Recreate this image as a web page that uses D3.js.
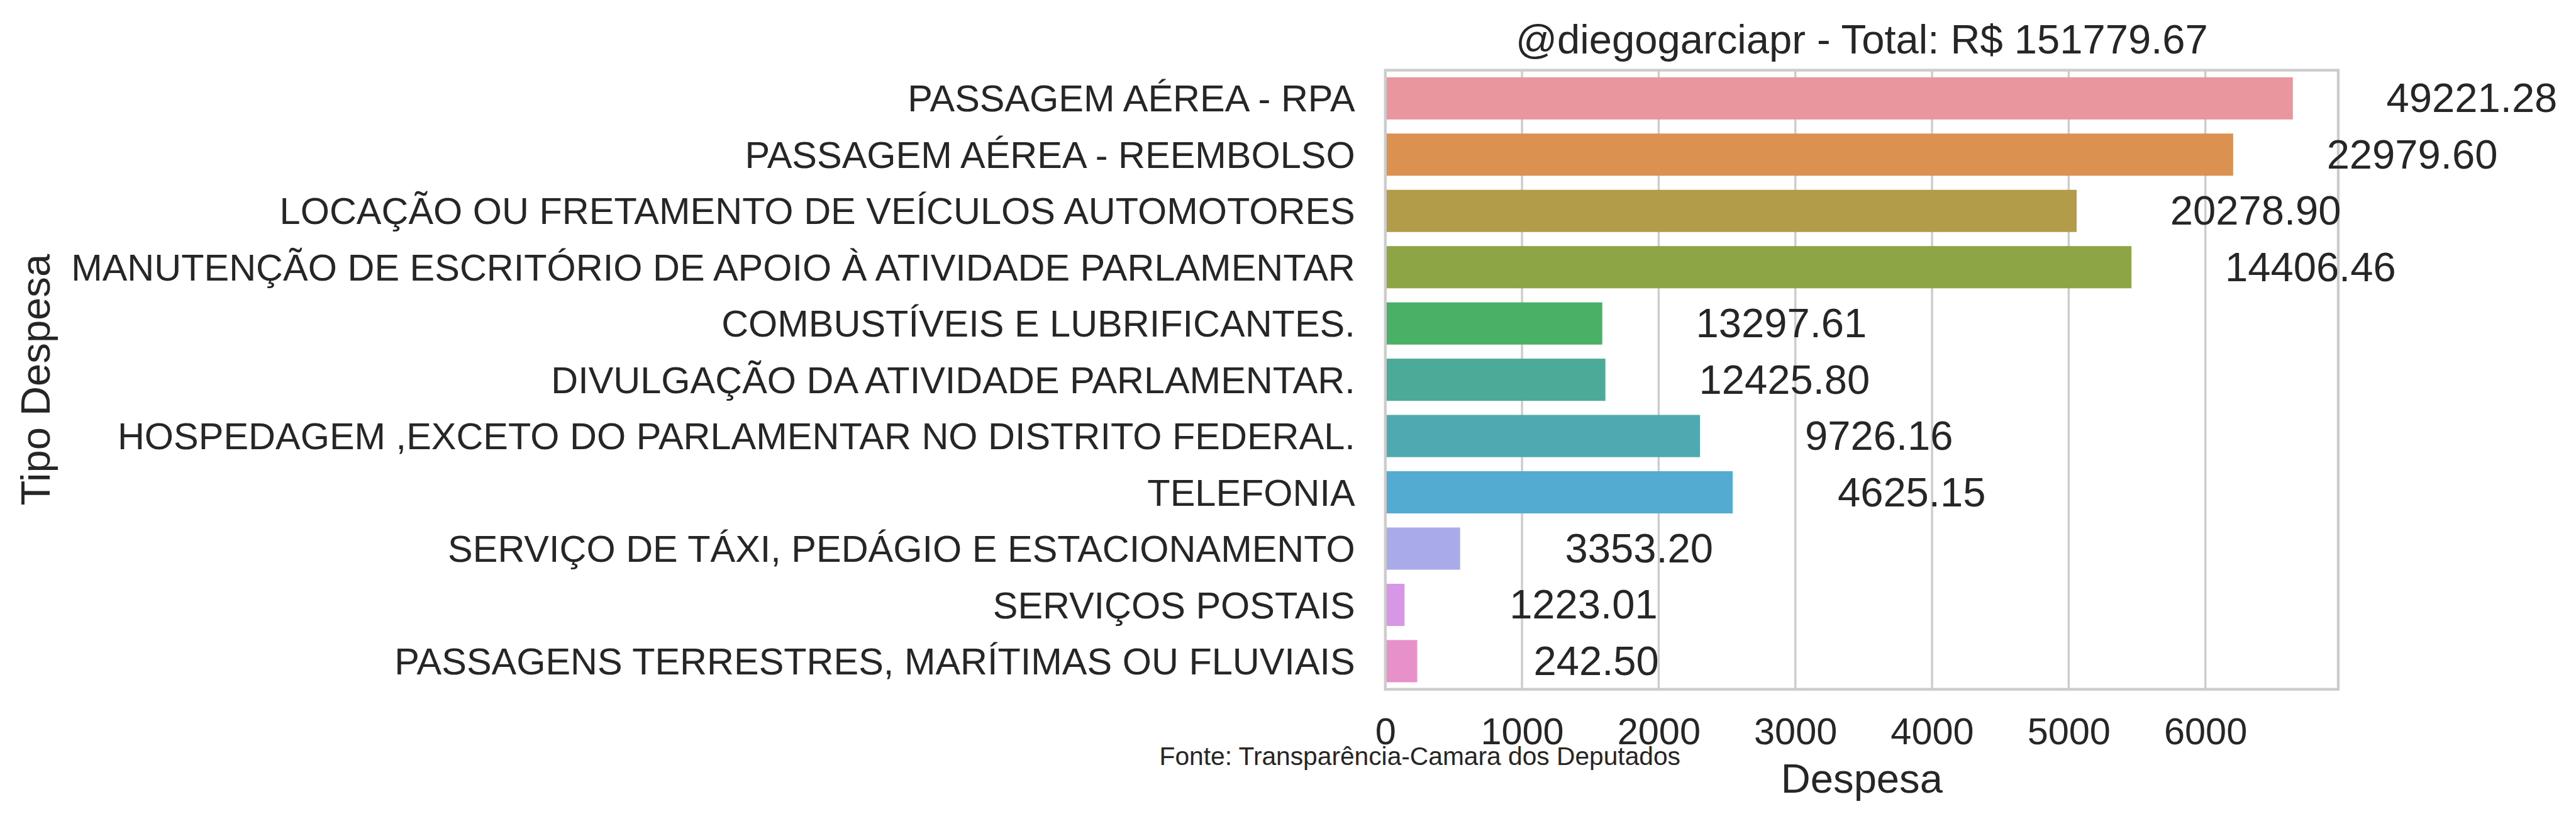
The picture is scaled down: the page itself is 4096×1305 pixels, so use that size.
<!DOCTYPE html>
<html>
<head>
<meta charset="utf-8">
<script src="https://cdn.jsdelivr.net/npm/d3@7"></script>
<style>
  html, body { margin: 0; padding: 0; background: #ffffff; }
  svg { display: block; }
  text { font-family: "Liberation Sans", Arial, "DejaVu Sans", sans-serif; fill: #262626; }
</style>
</head>
<body>
<svg id="chart"></svg>
<script>
// ---- data ----
const categories = [
  "PASSAGEM AÉREA - RPA",
  "PASSAGEM AÉREA - REEMBOLSO",
  "LOCAÇÃO OU FRETAMENTO DE VEÍCULOS AUTOMOTORES",
  "MANUTENÇÃO DE ESCRITÓRIO DE APOIO À ATIVIDADE PARLAMENTAR",
  "COMBUSTÍVEIS E LUBRIFICANTES.",
  "DIVULGAÇÃO DA ATIVIDADE PARLAMENTAR.",
  "HOSPEDAGEM ,EXCETO DO PARLAMENTAR NO DISTRITO FEDERAL.",
  "TELEFONIA",
  "SERVIÇO DE TÁXI, PEDÁGIO E ESTACIONAMENTO",
  "SERVIÇOS POSTAIS",
  "PASSAGENS TERRESTRES, MARÍTIMAS OU FLUVIAIS"
];
const barValues = [6640, 6203, 5058, 5459, 1587, 1610, 2302, 2541, 547, 140, 233];
const totalLabels = ["49221.28", "22979.60", "20278.90", "14406.46", "13297.61", "12425.80",
                     "9726.16", "4625.15", "3353.20", "1223.01", "242.50"];
const xTicks = [0, 1000, 2000, 3000, 4000, 5000, 6000];
const barColors = ["#e9969f", "#db914f", "#b39c49", "#8ea546", "#4ab065", "#4baa98",
                   "#4eaab0", "#54abd2", "#a9abe8", "#d796e6", "#e890c9"];
const titleText = "@diegogarciapr - Total: R$ 151779.67";
const xLabelText = "Despesa";
const yLabelText = "Tipo Despesa";
const sourceText = "Fonte: Transparência-Camara dos Deputados";

// ---- layout (reference pixel space, scaled by viewBox) ----
const W = 5028, H = 1602;
const outW = 4096, outH = 1305;
const m = { left: 2704, right: 4564, top: 137, bottom: 1345 };
const labelOffset = 1310; // data units to the right of bar end

const svg = d3.select("#chart")
  .attr("width", outW).attr("height", outH)
  .attr("viewBox", `0 0 ${W} ${H}`);

svg.append("rect").attr("width", W).attr("height", H).attr("fill", "#ffffff");

const x = d3.scaleLinear().domain([0, 6972]).range([m.left, m.right]);
const y = d3.scaleBand().domain(categories).range([m.top, m.bottom])
  .paddingInner(0.25).paddingOuter(0.125);

// grid
svg.append("g").selectAll("line").data(xTicks).join("line")
  .attr("x1", d => x(d)).attr("x2", d => x(d))
  .attr("y1", m.top).attr("y2", m.bottom)
  .attr("stroke", "#cccccc").attr("stroke-width", 4.2);

// bars
svg.append("g").selectAll("rect").data(categories).join("rect")
  .attr("x", x(0))
  .attr("y", d => y(d))
  .attr("width", (d, i) => x(barValues[i]) - x(0))
  .attr("height", y.bandwidth())
  .attr("fill", (d, i) => barColors[i]);

// frame
svg.append("rect")
  .attr("x", m.left).attr("y", m.top)
  .attr("width", m.right - m.left).attr("height", m.bottom - m.top)
  .attr("fill", "none").attr("stroke", "#cccccc").attr("stroke-width", 5.3);

// x axis
const xAxis = d3.axisBottom(x).tickValues(xTicks).tickSize(0).tickPadding(0).tickFormat(d3.format("d"));
const gx = svg.append("g").attr("transform", `translate(0,${m.bottom})`).call(xAxis);
gx.select(".domain").remove();
gx.selectAll("text").attr("dy", null).attr("y", 1452 - m.bottom)
  .attr("font-size", 73).style("fill", "#262626");

// y axis
const yAxis = d3.axisLeft(y).tickSize(0).tickPadding(0);
const gy = svg.append("g").attr("transform", `translate(${m.left},0)`).call(yAxis);
gy.select(".domain").remove();
gy.selectAll("text").attr("x", 2645 - m.left).attr("dy", "0.355em")
  .attr("font-size", 73).style("fill", "#262626");

// value labels
svg.append("g").selectAll("text").data(categories).join("text")
  .attr("x", (d, i) => x(barValues[i] + labelOffset))
  .attr("y", d => y(d) + y.bandwidth() / 2 + 27)
  .attr("text-anchor", "middle")
  .attr("font-size", 80)
  .text((d, i) => totalLabels[i]);

// title
svg.append("text").attr("x", (m.left + m.right) / 2).attr("y", 104)
  .attr("text-anchor", "middle").attr("font-size", 80).text(titleText);

// x label
svg.append("text").attr("x", (m.left + m.right) / 2).attr("y", 1547)
  .attr("text-anchor", "middle").attr("font-size", 80).text(xLabelText);

// y label
svg.append("text")
  .attr("transform", `translate(97,${(m.top + m.bottom) / 2}) rotate(-90)`)
  .attr("text-anchor", "middle").attr("font-size", 80).text(yLabelText);

// source
svg.append("text").attr("x", 2263).attr("y", 1493)
  .attr("font-size", 50).text(sourceText);
</script>
</body>
</html>
